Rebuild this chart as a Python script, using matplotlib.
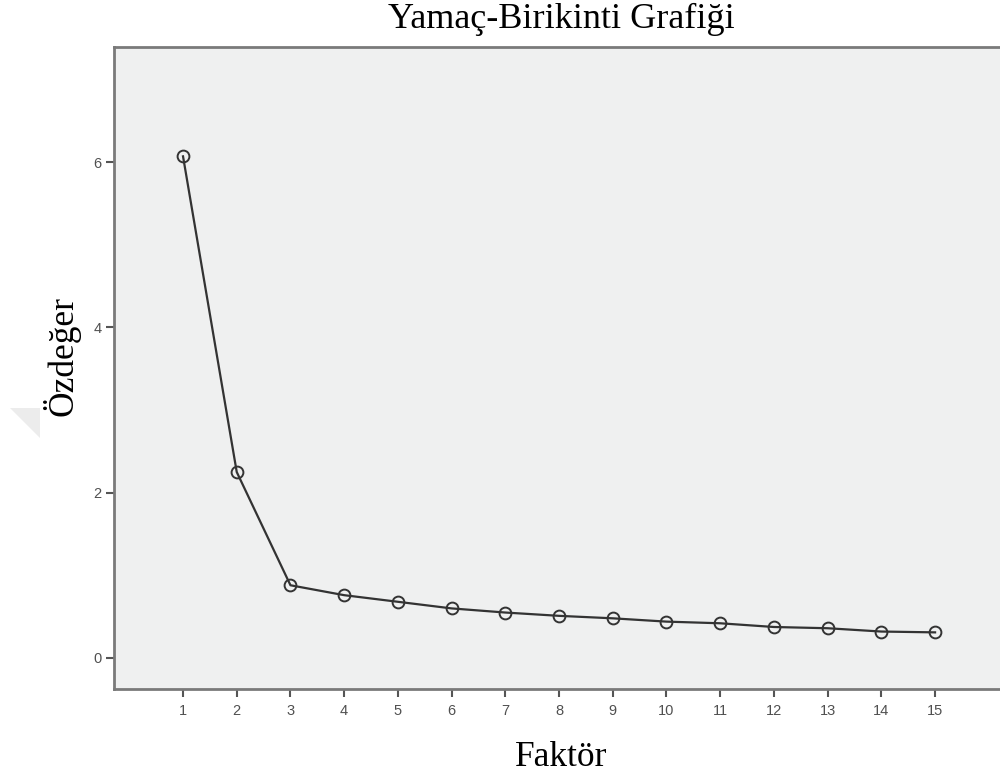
import matplotlib
matplotlib.use("Agg")
import matplotlib.pyplot as plt
from matplotlib.patches import Polygon

# Yamaç-birikinti (scree) verileri
faktorler = list(range(1, 16))
ozdegerler = [6.07, 2.25, 0.88, 0.76, 0.68, 0.60, 0.55, 0.51,
              0.48, 0.44, 0.42, 0.375, 0.36, 0.32, 0.31]
y_ticks = [0, 2, 4, 6]

fig = plt.figure(figsize=(10, 7.75), dpi=100)
ax = fig.add_axes([0.114, 0.111, 0.95, 0.828])
ax.set_facecolor("#eff0f0")

ax.plot(faktorler, ozdegerler, color="#333333", lw=1.6, zorder=3)
ax.plot(faktorler, ozdegerler, ls="none", marker="o", ms=8.5,
        mfc="none", mec="#333333", mew=1.4, zorder=4)

ax.set_xlim(-0.285, 17.40)
ax.set_ylim(-0.375, 7.39)
ax.set_xticks(faktorler)
ax.set_yticks(y_ticks)

for side in ["left", "bottom", "top"]:
    ax.spines[side].set_color("#7a7a7a")
    ax.spines[side].set_linewidth(2)
ax.spines["right"].set_visible(False)

ax.tick_params(axis="both", direction="out", length=6, width=1.5,
               color="#555555", labelcolor="#505050", labelsize=10.5)
for lbl in ax.get_xticklabels() + ax.get_yticklabels():
    lbl.set_family(["Liberation Sans", "DejaVu Sans"])
ax.tick_params(axis="x", pad=5)
ax.tick_params(axis="y", pad=3)

serif = ["Liberation Serif", "DejaVu Serif"]
fig.text(0.561, 0.975, "Yamaç-Birikinti Grafiği", ha="center", va="center",
         fontsize=26, family=serif)
fig.text(0.561, 0.022, "Faktör", ha="center", va="center",
         fontsize=25.5, family=serif)
fig.text(0.062, 0.54, "Özdeğer", ha="center", va="center", rotation=90,
         fontsize=25.5, family=serif)

# soluk gri üçgen (kaynak görselde)
fig.patches.append(Polygon([(0.010, 0.473), (0.040, 0.473), (0.040, 0.435)],
                           closed=True, transform=fig.transFigure,
                           facecolor="#ececec", edgecolor="none"))

fig.savefig("out.png", dpi=100)
